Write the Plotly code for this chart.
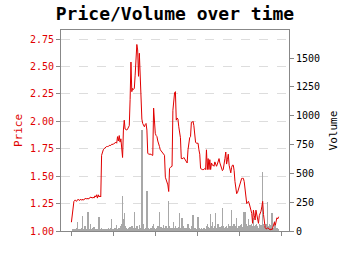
import plotly.graph_objects as go

price = [
    1.08, 1.15, 1.26, 1.27, 1.28, 1.28, 1.27, 1.28, 1.29, 1.28,
    1.28, 1.29, 1.28, 1.29, 1.28, 1.29, 1.29, 1.30, 1.29, 1.30,
    1.29, 1.30, 1.30, 1.31, 1.30, 1.30, 1.31, 1.30, 1.32, 1.31,
    1.33, 1.30, 1.33, 1.31, 1.32, 1.31, 1.69, 1.72, 1.74, 1.75,
    1.76, 1.76, 1.77, 1.77, 1.77, 1.78, 1.78, 1.78, 1.79, 1.79,
    1.79, 1.80, 1.80, 1.81, 1.80, 1.86, 1.82, 1.87, 1.81, 1.84,
    1.72, 1.67, 1.92, 2.01, 1.93, 1.92, 1.92, 1.93, 1.95, 1.96,
    2.20, 2.54, 2.27, 2.30, 2.29, 2.30, 2.42, 2.53, 2.70, 2.65,
    2.41, 2.62, 2.44, 2.10, 2.02, 1.98, 1.96, 1.95, 1.97, 1.98,
    1.92, 1.71, 1.70, 1.70, 1.70, 1.70, 1.69, 1.69, 2.12, 1.95,
    1.89, 1.87, 1.86, 1.82, 1.80, 1.77, 1.74, 1.73, 1.72, 1.71,
    1.70, 1.69, 1.49, 1.47, 1.45, 1.42, 1.36, 1.57, 1.58, 1.59,
    1.59, 2.10, 2.22, 2.26, 2.27, 2.01, 2.03, 2.02, 1.95, 1.90,
    1.85, 1.66, 1.66, 1.66, 1.67, 1.66, 1.65, 1.64, 1.62, 1.74,
    1.80, 1.85, 1.86, 1.99, 1.99, 2.00, 1.96, 1.83, 1.81, 1.80,
    1.80, 1.80, 1.74, 1.70, 1.57, 1.56, 1.56, 1.56, 1.56, 1.57,
    1.56, 1.74, 1.56, 1.66, 1.56, 1.65, 1.56, 1.62, 1.60, 1.60,
    1.59, 1.63, 1.60, 1.59, 1.61, 1.64, 1.66, 1.62, 1.60, 1.57,
    1.55, 1.56, 1.60, 1.66, 1.72, 1.61, 1.65, 1.70, 1.60, 1.56,
    1.53, 1.58, 1.60, 1.60, 1.55, 1.45, 1.36, 1.34, 1.35, 1.38,
    1.40, 1.43, 1.46, 1.48, 1.48, 1.48, 1.45, 1.38, 1.30, 1.25,
    1.26, 1.27, 1.25, 1.22, 1.20, 1.16, 1.07, 1.19, 1.14, 1.10,
    1.19, 1.15, 1.09, 1.07, 1.14, 1.16, 1.18, 1.22, 1.27, 1.15,
    1.06, 1.03, 1.02, 1.02, 1.03, 1.02, 1.02, 1.01, 1.02, 1.01,
    1.03, 1.06, 1.08, 1.05, 1.09, 1.12, 1.11, 1.13,
]

volume = [
    0, 5, 10, 8, 15, 12, 30, 81, 10, 20,
    6, 15, 25, 130, 12, 8, 40, 20, 10, 15,
    167, 20, 10, 60, 15, 25, 8, 35, 12, 20,
    10, 15, 20, 119, 18, 10, 25, 12, 8, 15,
    20, 10, 12, 18, 25, 10, 15, 30, 101, 20,
    10, 15, 25, 20, 50, 12, 30, 18, 25, 40,
    60, 306, 100, 153, 40, 20, 30, 15, 25, 20,
    35, 15, 40, 20, 30, 167, 25, 15, 40, 30,
    20, 50, 30, 25, 880, 40, 60, 20, 30, 25,
    350, 40, 25, 15, 30, 20, 25, 40, 60, 30,
    20, 15, 30, 40, 25, 162, 20, 35, 15, 25,
    50, 30, 20, 40, 25, 30, 260, 45, 25, 30,
    20, 30, 80, 25, 40, 20, 30, 25, 35, 153,
    30, 20, 110, 40, 25, 20, 30, 15, 25, 60,
    20, 30, 15, 25, 40, 140, 30, 20, 25, 15,
    30, 120, 20, 25, 15, 30, 20, 10, 25, 30,
    20, 40, 60, 35, 25, 30, 147, 40, 80, 30,
    25, 40, 153, 30, 50, 60, 20, 35, 30, 40,
    197, 40, 25, 30, 35, 40, 25, 60, 30, 40,
    25, 182, 40, 30, 60, 35, 40, 110, 30, 25,
    40, 30, 50, 60, 35, 167, 40, 165, 50, 60,
    40, 100, 30, 50, 35, 60, 40, 110, 40, 30,
    50, 60, 40, 30, 60, 45, 50, 40, 515, 60,
    40, 30, 60, 50, 254, 40, 60, 30, 50, 153,
    40, 30, 90, 40, 20, 30, 15, 10,
]

price_ticks = [1.00, 1.25, 1.50, 1.75, 2.00, 2.25, 2.50, 2.75]
volume_ticks = [0, 250, 500, 750, 1000, 1250, 1500]
x_ticks = [0, 50, 100, 150, 200, 250]

FONT = "DejaVu Sans Mono"
RED = "#e00000"
AX = "#888888"

fig = go.Figure()
fig.add_trace(go.Bar(
    x=list(range(len(volume))), y=volume, yaxis="y",
    width=0.5, marker=dict(color="#a8a8a8", line=dict(width=0)),
    showlegend=False,
))
fig.add_trace(go.Scatter(
    x=list(range(len(price))), y=price, yaxis="y2", mode="lines",
    line=dict(color=RED, width=1), showlegend=False,
))

fig.update_layout(
    width=350, height=255,
    margin=dict(l=61, r=61, t=30, b=24),
    paper_bgcolor="white", plot_bgcolor="white",
    bargap=0,
    title=dict(text="<b>Price/Volume over time</b>", x=0.5, xanchor="center",
               y=1 - 13.5 / 255, yanchor="middle", yref="container",
               font=dict(family=FONT, size=18, color="black")),
    xaxis=dict(range=[-12.4, 259.4], tickvals=x_ticks, showticklabels=False,
               ticks="outside", ticklen=4, tickcolor=AX, showgrid=False,
               showline=True, linecolor=AX, linewidth=1, mirror=True, zeroline=False),
    yaxis=dict(side="right", range=[0, 1743], tickvals=volume_ticks,
               ticks="outside", ticklen=4, tickcolor=AX, showgrid=False,
               showline=True, linecolor=AX, linewidth=1, zeroline=False,
               tickfont=dict(family=FONT, size=10, color="black"),
               title=dict(text="Volume", font=dict(family=FONT, size=11, color="black"), standoff=10)),
    yaxis2=dict(overlaying="y", side="left", range=[1.0, 2.832], tickvals=price_ticks,
                tickformat=".2f",
                ticks="outside", ticklen=4, tickcolor=AX,
                showgrid=True, gridcolor="#dddddd", griddash="dash", gridwidth=1,
                showline=True, linecolor=AX, linewidth=1, zeroline=False,
                tickfont=dict(family=FONT, size=10, color=RED),
                title=dict(text="Price", font=dict(family=FONT, size=11, color=RED), standoff=5)),
)

fig.write_html("out.html")
